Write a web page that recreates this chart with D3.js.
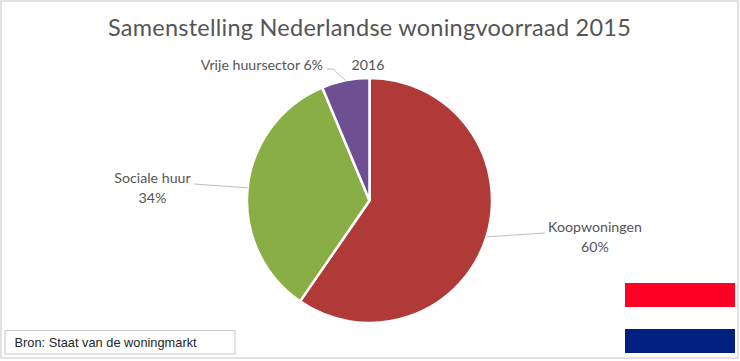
<!DOCTYPE html>
<html>
<head>
<meta charset="utf-8">
<script src="https://cdn.jsdelivr.net/npm/d3@7"></script>
<style>
  html, body { margin: 0; padding: 0; background: #fff; }
  svg { display: block; }
  text { font-family: Lato, "Open Sans", sans-serif; fill: #555; }
</style>
</head>
<body>
<svg id="chart" width="740" height="361"></svg>
<script>
const categories = ['Koopwoningen', 'Sociale huur', 'Vrije huursector'];
const shares = [59.6, 34.1, 6.3];
const colors = ['#b03a38', '#8aae46', '#6d4f92'];
const title = 'Samenstelling Nederlandse woningvoorraad 2015';
const seriesName = '2016';
const source = 'Bron: Staat van de woningmarkt';
const flagColors = ['#ff0025', '#002080'];

const svg = d3.select('#chart');
const center = { x: 369.5, y: 200.5 };
const radius = 122.5;

// outer frame
svg.append('rect')
  .attr('x', 1).attr('y', 1)
  .attr('width', 737).attr('height', 357)
  .attr('fill', '#fff')
  .attr('stroke', '#d9d9d9')
  .attr('stroke-width', 1.5);

svg.append('text')
  .attr('x', 369.5).attr('y', 36)
  .attr('text-anchor', 'middle')
  .attr('font-size', 23.5)
  .attr('letter-spacing', 0.25)
  .text(title);

svg.append('text')
  .attr('x', 368).attr('y', 70)
  .attr('text-anchor', 'middle')
  .attr('font-size', 14.2)
  .text(seriesName);

const pie = d3.pie().sort(null).value(d => d.value);
const arc = d3.arc().innerRadius(0).outerRadius(radius);
const slices = pie(categories.map((name, i) => ({ name, value: shares[i], color: colors[i] })));

const viewport = svg.append('g')
  .attr('transform', `translate(${center.x},${center.y})`);

viewport.selectAll('path').data(slices).enter().append('path')
  .attr('d', arc)
  .attr('fill', d => d.data.color)
  .attr('stroke', '#fff')
  .attr('stroke-width', 2.5);

// label placement per slice, in order of categories
const labelLayout = [
  { x: 595, y: 232, anchor: 'middle', knee: [545, 233] },
  { x: 152.5, y: 183, anchor: 'middle', knee: [194, 184] },
  { x: 323, y: 70, anchor: 'end', knee: [333, 69], tail: [327, 69] }
];

const edge = d => {
  const a = (d.startAngle + d.endAngle) / 2;
  return [center.x + radius * Math.sin(a), center.y - radius * Math.cos(a)];
};

const line = d3.line();
svg.append('g').selectAll('path').data(slices).enter().append('path')
  .attr('d', (d, i) => {
    const l = labelLayout[i];
    const pts = [edge(d), l.knee];
    if (l.tail) pts.push(l.tail);
    return line(pts);
  })
  .attr('fill', 'none')
  .attr('stroke', '#bfbfbf')
  .attr('stroke-width', 1);

const labels = svg.append('g').selectAll('text').data(slices).enter().append('text')
  .attr('text-anchor', (d, i) => labelLayout[i].anchor)
  .attr('font-size', 14.2);

labels.each(function (d, i) {
  const l = labelLayout[i];
  const pct = Math.round(d.data.value) + '%';
  const t = d3.select(this);
  if (l.anchor === 'end') {
    t.append('tspan').attr('x', l.x).attr('y', l.y).text(`${d.data.name} ${pct}`);
  } else {
    t.append('tspan').attr('x', l.x).attr('y', l.y).text(d.data.name);
    t.append('tspan').attr('x', l.x).attr('y', l.y + 19.5).text(pct);
  }
});

// source box
svg.append('rect')
  .attr('x', 5).attr('y', 330.5)
  .attr('width', 230).attr('height', 23.5)
  .attr('fill', '#fff')
  .attr('stroke', '#c8c8c8')
  .attr('stroke-width', 1);

svg.append('text')
  .attr('x', 14.5).attr('y', 347)
  .attr('font-size', 12.8)
  .style('font-family', '"Liberation Sans", Arial, sans-serif')
  .style('fill', '#262626')
  .text(source);

// flag stripes
const flagY = d3.scalePoint().domain(flagColors).range([283, 329]);
svg.append('g').selectAll('rect').data(flagColors).enter().append('rect')
  .attr('x', 625)
  .attr('y', d => flagY(d))
  .attr('width', 110)
  .attr('height', 24)
  .attr('fill', d => d);
</script>
</body>
</html>
